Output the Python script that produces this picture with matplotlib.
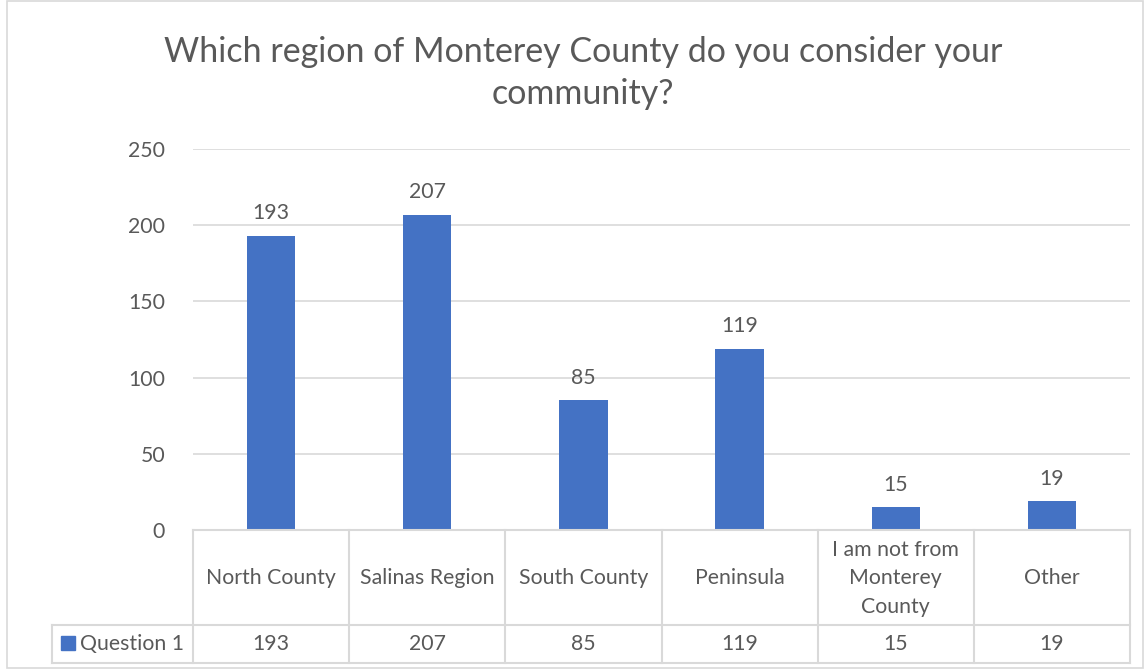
import matplotlib
matplotlib.use("Agg")
import matplotlib.pyplot as plt
from matplotlib.lines import Line2D
from matplotlib.patches import Rectangle

categories = ["North County", "Salinas Region", "South County", "Peninsula",
              "I am not from\nMonterey\nCounty", "Other"]
values = [193, 207, 85, 119, 15, 19]
series_name = "Question 1"
yticks = [0, 50, 100, 150, 200, 250]
title = "Which region of Monterey County do you consider your\ncommunity?"

W, H = 1145, 670
plt.rcParams['font.family'] = ['Lato', 'DejaVu Sans']
txt = '#595959'
grid = '#d9d9d9'
bar_c = '#4472C4'
fs = 15.3

fig = plt.figure(figsize=(W/100, H/100), dpi=100)

def fx(px): return px / W
def fy(py): return 1 - py / H

x0, x1, ytop, y0 = 193, 1130, 149, 530
ax = fig.add_axes([fx(x0), fy(y0), fx(x1) - fx(x0), fy(ytop) - fy(y0)])
xs = list(range(len(categories)))
ax.bar(xs, values, width=0.31, color=bar_c, zorder=3)
ax.set_xlim(-0.5, len(categories) - 0.5)
ax.set_ylim(0, 250)
ax.set_yticks(yticks)
ax.set_yticklabels([str(t) for t in yticks], fontsize=fs, color=txt)
ax.tick_params(axis='y', length=0, pad=20)
ax.set_xticks([])
ax.grid(axis='y', color=grid, linewidth=1.2, zorder=0)
for s in ax.spines.values():
    s.set_visible(False)
for x, v in zip(xs, values):
    ax.annotate(str(v), (x, v), xytext=(0, 9), textcoords='offset points',
                ha='center', va='bottom', fontsize=fs, color=txt)

# data table
cw = (x1 - x0) / len(categories)
r1, r2 = 625, 663
lx = 52
lw = 1.5
def hline(xa, xb, y):
    fig.add_artist(Line2D([fx(xa), fx(xb)], [fy(y), fy(y)], color=grid, lw=lw, transform=fig.transFigure))
def vline(x, ya, yb):
    fig.add_artist(Line2D([fx(x), fx(x)], [fy(ya), fy(yb)], color=grid, lw=lw, transform=fig.transFigure))
hline(x0, x1, y0)
hline(lx, x1, r1)
hline(lx, x1, r2)
for i in range(len(categories) + 1):
    vline(x0 + i * cw, y0, r2)
vline(lx, r1, r2)
for i, (c, v) in enumerate(zip(categories, values)):
    cx = x0 + (i + 0.5) * cw
    fig.text(fx(cx), fy((y0 + r1) / 2 + 1), c, ha='center', va='center', fontsize=fs,
             color=txt, linespacing=1.55)
    fig.text(fx(cx), fy((r1 + r2) / 2), str(v), ha='center', va='center', fontsize=fs, color=txt)
fig.add_artist(Rectangle((fx(61), fy(650)), fx(14), fy(636) - fy(650), color=bar_c,
                         transform=fig.transFigure))
fig.text(fx(80), fy((r1 + r2) / 2), series_name, ha='left', va='center', fontsize=fs, color=txt)

fig.text(fx(583), fy(73), title, ha='center', va='center', fontsize=24.5, color=txt, linespacing=1.38)

fig.add_artist(Rectangle((fx(7), fy(668)), fx(1143) - fx(7), fy(1) - fy(668), fill=False,
                         edgecolor=grid, lw=1.2, transform=fig.transFigure))

fig.savefig("out.png", dpi=100)
